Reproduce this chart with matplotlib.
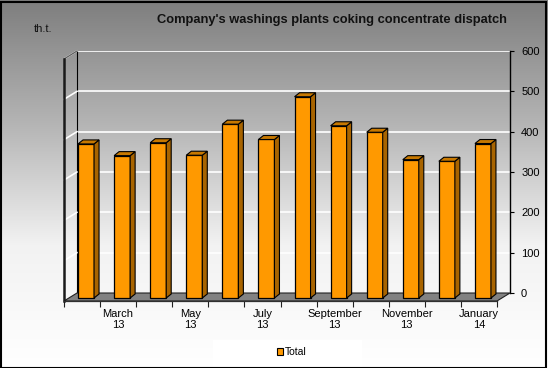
import numpy as np
import matplotlib
matplotlib.use("Agg")
import matplotlib.pyplot as plt
from matplotlib.patches import Polygon, Rectangle, Patch
from matplotlib import transforms

# ---- data ----
months = ["February 13", "March 13", "April 13", "May 13", "June 13", "July 13",
          "August 13", "September 13", "October 13", "November 13", "December 13", "January 14"]
tick_labels = ["", "March\n13", "", "May\n13", "", "July\n13",
               "", "September\n13", "", "November\n13", "", "January\n14"]
total = [382, 353, 385, 354, 431, 393, 499, 427, 411, 343, 339, 383]
y_ticks = [0, 100, 200, 300, 400, 500, 600]

plt.rcParams['font.family'] = ['Liberation Sans', 'DejaVu Sans']

W, H = 548, 368
fig = plt.figure(figsize=(W / 100, H / 100), dpi=100)

# background gradient
bg = fig.add_axes([0, 0, 1, 1], zorder=-10)
grad = np.linspace(0, 1, 256).reshape(-1, 1)
bg.imshow(grad, aspect='auto', cmap=matplotlib.colors.LinearSegmentedColormap.from_list(
    'g', ['#7e7e7e', '#b4b4b4', '#f2f2f2', '#ffffff']), extent=[0, 1, 0, 1], origin='upper')
bg.set_axis_off()

n = len(total)
fx0, fx1, fy0, fh = 64, 497, 301, 242
dxf, dyf = 13, 8  # floor depth in px
px_x = (fx1 - fx0) / n
px_y = fh / 600.0

# back wall axes
axb = fig.add_axes([(fx0 + dxf) / W, (H - fy0 + dyf) / H, (fx1 - fx0) / W, fh / H], zorder=0)
axb.patch.set_alpha(0)
axb.set_xlim(-0.5, n - 0.5)
axb.set_ylim(0, 600)
axb.set_xticks([])
axb.yaxis.tick_right()
axb.set_yticks(y_ticks)
axb.set_yticklabels([str(v) for v in y_ticks], fontsize=8)
axb.tick_params(axis='y', direction='out', length=3, width=0.8, pad=5, colors='black')
axb.grid(axis='y', color='white', lw=1.2)
for s in ['top', 'bottom']:
    axb.spines[s].set_visible(False)
axb.spines['right'].set_color('black')
axb.spines['right'].set_lw(1.0)
axb.spines['left'].set_color('black')
axb.spines['left'].set_lw(0.8)

# front plane axes
ax = fig.add_axes([fx0 / W, (H - fy0) / H, (fx1 - fx0) / W, fh / H], zorder=1)
ax.patch.set_alpha(0)
ax.set_xlim(-0.5, n - 0.5)
ax.set_ylim(0, 600)
ax.set_yticks([])
ax.set_xticks(np.arange(n + 1) - 0.5)
ax.set_xticklabels([])
ax.set_xticks(np.arange(n), minor=True)
ax.set_xticklabels(tick_labels, minor=True, fontsize=8, linespacing=1.1)
ax.tick_params(axis='x', which='major', direction='out', length=4, width=0.8, colors='#202020')
ax.tick_params(axis='x', which='minor', length=0, pad=6)
for s in ['top', 'right']:
    ax.spines[s].set_visible(False)
ax.spines['left'].set_lw(1.8)
ax.spines['left'].set_color('#1a1a1a')
ax.spines['bottom'].set_lw(0.9)
ax.spines['bottom'].set_color('#303030')

ddx_f = dxf / px_x
ddy_f = dyf / px_y

# floor
floor = Polygon([(-0.5, 0), (n - 0.5, 0), (n - 0.5 + ddx_f, ddy_f), (-0.5 + ddx_f, ddy_f)],
                closed=True, facecolor='#828282', edgecolor='#202020', lw=0.8,
                clip_on=False, zorder=1)
ax.add_patch(floor)

# left wall diagonals
for v in y_ticks[1:]:
    ax.plot([-0.5, -0.5 + ddx_f], [v, v + ddy_f], color='white', lw=1.2, clip_on=False, zorder=0.5)
ax.plot([-0.5, -0.5 + ddx_f], [600, 600 + ddy_f], color='#606060', lw=1.0, clip_on=False, zorder=0.6)

# bars
off = transforms.ScaledTranslation(4 / 100, 3 / 100, fig.dpi_scale_trans)
trans = ax.transData + off
bw = 16 / px_x
bdx = 5 / px_x
bdy = 4 / px_y
x = np.arange(n)
ax.bar(x, total, width=bw, color='#ff9900', edgecolor='black', lw=0.9,
       transform=trans, clip_on=False, zorder=3)
for xi, v in zip(x, total):
    l, r = xi - bw / 2, xi + bw / 2
    top = Polygon([(l, v), (r, v), (r + bdx, v + bdy), (l + bdx, v + bdy)], closed=True,
                  facecolor='#c77800', edgecolor='black', lw=0.8, transform=trans,
                  clip_on=False, zorder=3)
    side = Polygon([(r, 0), (r + bdx, bdy), (r + bdx, v + bdy), (r, v)], closed=True,
                   facecolor='#a86400', edgecolor='black', lw=0.8, transform=trans,
                   clip_on=False, zorder=3)
    ax.add_patch(side)
    ax.add_patch(top)

# titles
fig.text((160 + 503) / 2 / W, 1 - 20 / H, "Company's washings plants coking concentrate dispatch",
         ha='center', va='center', fontsize=9.3, fontweight='bold', color='#111111')
fig.text(34 / W, 1 - 29 / H, "th.t.", ha='left', va='center', fontsize=8, color='#111111')

# legend box
fig.patches.append(Rectangle((213 / W, 0), (362 - 213) / W, (H - 340) / H,
                             transform=fig.transFigure, facecolor='white', edgecolor='none', zorder=2))
leg = fig.legend(handles=[Patch(facecolor='#ff9900', edgecolor='black', lw=0.8, label='Total')],
                 loc='center', bbox_to_anchor=(292 / W, 1 - 352 / H), frameon=False,
                 fontsize=7.5, handlelength=0.6, handleheight=0.6, handletextpad=0.15)
leg.set_zorder(5)

# outer border
fig.patches.append(Rectangle((0.5 / W, 0.5 / H), 1 - 2.5 / W, 1 - 2.5 / H,
                             transform=fig.transFigure, facecolor='none',
                             edgecolor='black', lw=1.5, zorder=10))

fig.savefig('out.png', dpi=100)
